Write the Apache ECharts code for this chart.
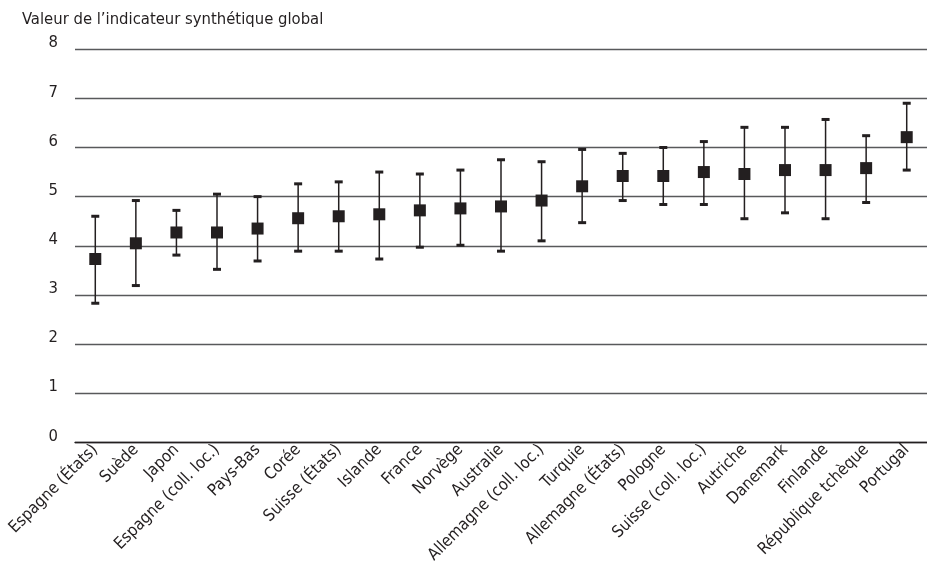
<!DOCTYPE html>
<html>
<head>
<meta charset="utf-8">
<script src="https://cdn.jsdelivr.net/npm/echarts@6/dist/echarts.min.js"></script>
<style>
  html, body { margin: 0; padding: 0; background: #fff; }
  #chart { width: 927px; height: 580px; }
</style>
</head>
<body>
<div id="chart"></div>
<script>
const categories = [
  'Espagne (États)', 'Suède', 'Japon', 'Espagne (coll. loc.)', 'Pays-Bas', 'Corée',
  'Suisse (États)', 'Islande', 'France', 'Norvège', 'Australie', 'Allemagne (coll. loc.)',
  'Turquie', 'Allemagne (États)', 'Pologne', 'Suisse (coll. loc.)', 'Autriche', 'Danemark',
  'Finlande', 'République tchèque', 'Portugal'
];
const centralValues = [3.73, 4.05, 4.27, 4.27, 4.35, 4.56, 4.60, 4.64, 4.72, 4.76, 4.80, 4.92,
  5.21, 5.42, 5.42, 5.50, 5.46, 5.54, 5.54, 5.58, 6.21];
const lowValues = [2.83, 3.19, 3.81, 3.52, 3.69, 3.89, 3.89, 3.73, 3.97, 4.01, 3.89, 4.10,
  4.47, 4.92, 4.84, 4.84, 4.55, 4.67, 4.55, 4.88, 5.54];
const highValues = [4.60, 4.92, 4.72, 5.05, 5.00, 5.26, 5.30, 5.50, 5.46, 5.54, 5.75, 5.71,
  5.96, 5.88, 6.00, 6.12, 6.41, 6.41, 6.57, 6.24, 6.90];
const yTicks = [0, 1, 2, 3, 4, 5, 6, 7, 8];

const FONT = '"DejaVu Sans Condensed", "Roboto Condensed", sans-serif';
const INK = '#231f20';
const chart = echarts.init(document.getElementById('chart'));

const rangeData = categories.map((c, i) => [i, lowValues[i], highValues[i]]);

chart.setOption({
  animation: false,
  backgroundColor: '#fff',
  title: {
    text: 'Valeur de l’indicateur synthétique global',
    left: 17, top: 6,
    textStyle: { fontFamily: FONT, fontSize: 16.5, fontWeight: 'normal', color: INK }
  },
  grid: { left: 75, right: 0, top: 49.2, bottom: 137.7 },
  xAxis: {
    type: 'category',
    data: categories,
    boundaryGap: true,
    axisLine: { lineStyle: { color: INK, width: 1.4 } },
    axisTick: { inside: true, length: 6, lineStyle: { color: INK } },
    axisLabel: { rotate: 45, interval: 0, margin: 5, fontFamily: FONT, fontSize: 16.5, color: INK }
  },
  yAxis: {
    type: 'value',
    min: 0, max: 8, interval: 1,
    axisLine: { show: false },
    axisTick: { show: false },
    axisLabel: {
      margin: 17, fontFamily: FONT, fontSize: 16.5, color: INK,
      verticalAlign: 'bottom', lineHeight: 12,
      formatter: v => yTicks.includes(v) ? String(v) : ''
    },
    splitLine: { lineStyle: { color: '#58595b', width: 1.3 } }
  },
  series: [
    {
      type: 'custom',
      data: rangeData,
      renderItem: (params, api) => {
        const x = api.value(0);
        const lo = api.coord([x, api.value(1)]);
        const hi = api.coord([x, api.value(2)]);
        const capW = 8, capH = 3;
        const style = { fill: INK };
        return {
          type: 'group',
          children: [
            { type: 'line', shape: { x1: lo[0], y1: lo[1], x2: hi[0], y2: hi[1] },
              style: { stroke: INK, lineWidth: 1.5 } },
            { type: 'rect', shape: { x: hi[0] - capW / 2, y: hi[1] - capH / 2, width: capW, height: capH }, style },
            { type: 'rect', shape: { x: lo[0] - capW / 2, y: lo[1] - capH / 2, width: capW, height: capH }, style }
          ]
        };
      },
      z: 2
    },
    {
      type: 'scatter',
      data: centralValues,
      symbol: 'rect',
      symbolSize: 12,
      itemStyle: { color: INK, opacity: 1 },
      z: 3
    }
  ]
});
</script>
</body>
</html>
